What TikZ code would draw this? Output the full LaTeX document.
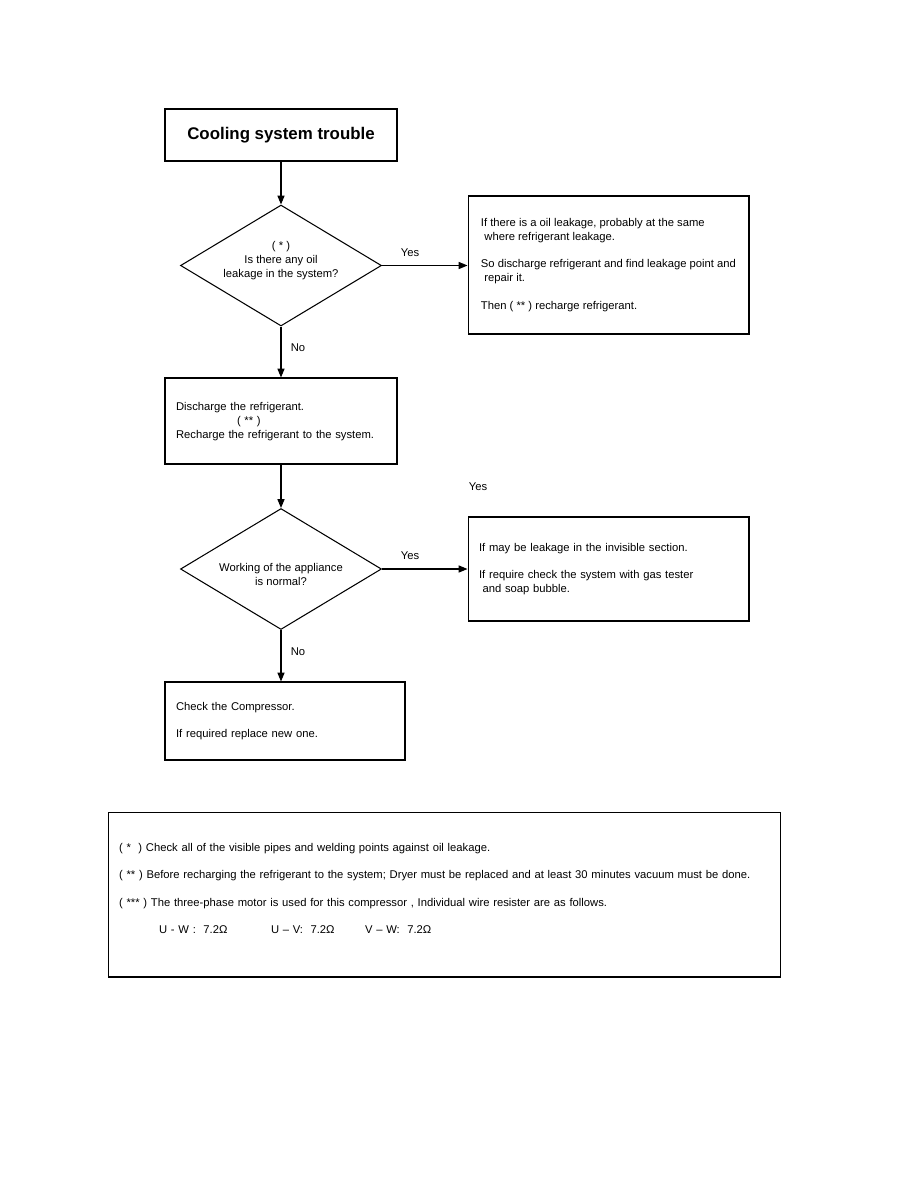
\documentclass[tikz,border=0pt]{standalone}
\usepackage{fontspec}
\setmainfont{Liberation Sans}
\usetikzlibrary{shapes, positioning, arrows.meta}

\begin{document}
\begin{tikzpicture}[x=0.02cm, y=-0.02cm, line width=0.6pt,
    every node/.style={font=\fontsize{6.4}{8}\selectfont},
    box/.style={rectangle, draw, align=left, inner xsep=0.22cm},
    decision/.style={diamond, draw, align=center, inner sep=-3pt, shape aspect=1.66, minimum width=4.02cm, minimum height=2.42cm},
    answer/.style={inner sep=1pt},
    arr/.style={-{Triangle[length=5pt, width=4pt]}}]
    \useasboundingbox (0,0) rectangle (918,1188);
    % flow chart
    \node[box, font=\fontsize{9.6}{11}\selectfont\bfseries, align=center, minimum width=4.64cm, minimum height=1.04cm] (start) at (281,135) {Cooling system trouble};
    \node[decision] (oil) at (281,265.5) {( * )\\Is there any oil\\leakage in the system?\\[-1pt]\mbox{}};
    \node[box, minimum width=5.62cm, minimum height=2.76cm] (repair) at (608.5,265) {If there is a oil leakage, probably at the same\\\hspace*{2pt}where refrigerant leakage.\\[7.5pt]So discharge refrigerant and find leakage point and\\\hspace*{2pt}repair it.\\[7.5pt]Then ( ** ) recharge refrigerant.};
    \node[box, text width=4.20cm, minimum height=1.72cm] (recharge) at (281,421) {\mbox{}\\[-3pt]Discharge the refrigerant.\\\hspace*{1.22cm}( ** )\\Recharge the refrigerant to the system.};
    \node[decision] (normal) at (281,569) {\mbox{}\\[3.4pt]Working of the appliance\\is normal?};
    \node[box, text width=5.18cm, minimum height=2.08cm] (tester) at (608.5,569) {If may be leakage in the invisible section.\\[7.5pt]If require check the system with gas tester\\\hspace*{2pt}and soap bubble.};
    \node[box, text width=4.36cm, minimum height=1.56cm] (compressor) at (285,721) {Check the Compressor.\\[7.5pt]If required replace new one.};
    \node[answer] (yes1) at (410,253) {Yes};
    \node[answer] (no1) at (298,348) {No};
    \node[answer] (yes2) at (478,487) {Yes};
    \node[answer] (yes3) at (410,556) {Yes};
    \node[answer] (no2) at (298,652) {No};
    \draw[arr] (start) -- (oil);
    \draw[arr] (oil.east) -- (oil.east -| repair.west);
    \draw[arr] (oil) -- (recharge);
    \draw[arr] (recharge) -- (normal);
    \draw[arr] (normal.east) -- (normal.east -| tester.west);
    \draw[arr] (normal.south) -- (normal.south |- compressor.north);
    % notes
    \node[box, text width=13.02cm, minimum height=3.30cm] (notes) at (444.5,894.5) {( *\ \ ) Check all of the visible pipes and welding points against oil leakage.\\[7.6pt]( ** ) Before recharging the refrigerant to the system; Dryer must be replaced and at least 30 minutes vacuum must be done.\\[7.6pt]( *** ) The three-phase motor is used for this compressor , Individual wire resister are as follows.\\[7.6pt]\hspace*{0.8cm}\makebox[2.24cm][l]{U - W :\ \ 7.2Ω}\makebox[1.88cm][l]{U – V:\ \ 7.2Ω}V – W:\ \ 7.2Ω\\[-1pt]\mbox{}};
\end{tikzpicture}
\end{document}
